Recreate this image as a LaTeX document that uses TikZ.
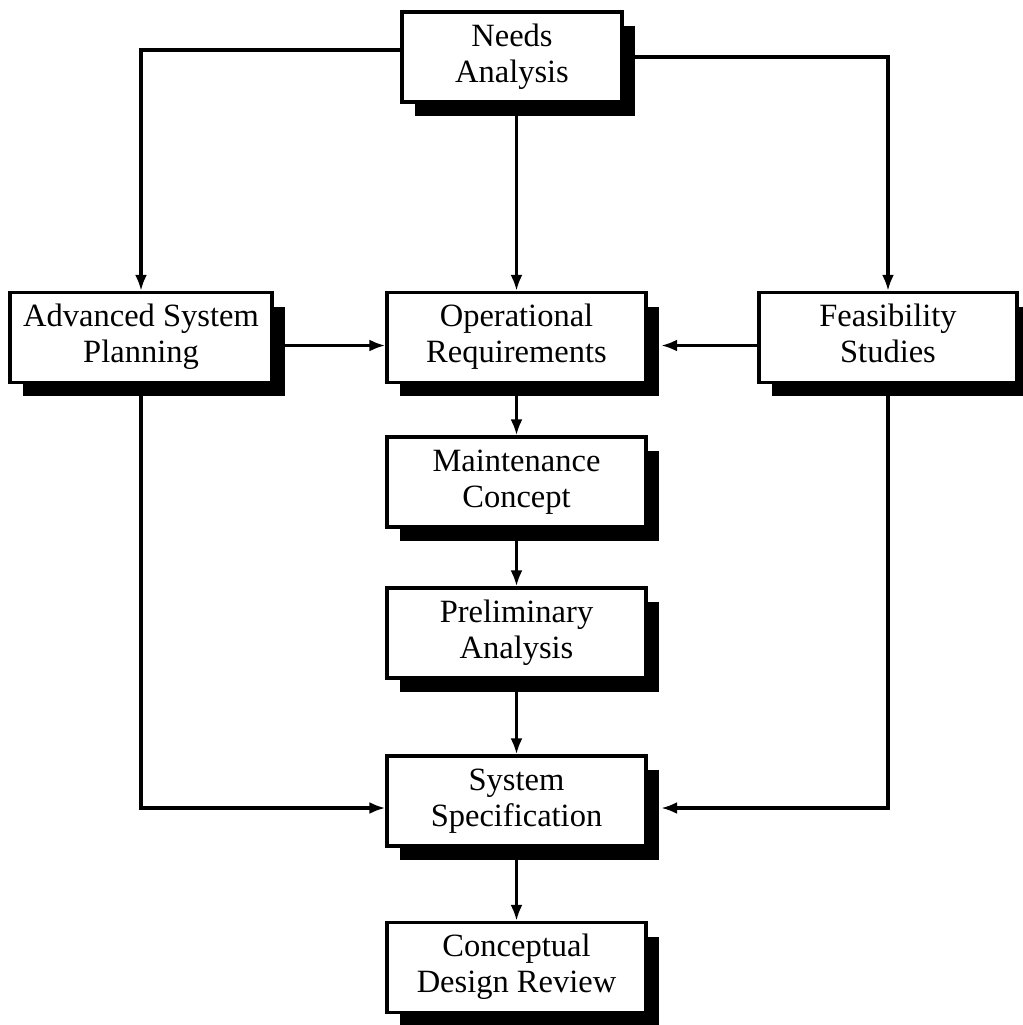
\documentclass[tikz,border=0pt]{standalone}
\usepackage{fontspec}
\setmainfont{Liberation Serif}
\usetikzlibrary{shadows,arrows.meta}

\newcommand{\twolines}[2]{\strut #1\\\strut #2}

\tikzset{
  stepbox/.style={draw, line width=1.9pt, fill=white, align=center,
    inner sep=0pt, minimum height=1.8cm, minimum width=5.18cm,
    font=\fontsize{18.5}{20.5}\selectfont,
    drop shadow={shadow xshift=0.26cm, shadow yshift=-0.28cm,
      fill=black, opacity=1}},
  flow/.style={line width=1.8pt, -{Latex[length=0.32cm,width=0.24cm]}}
}

\begin{document}
\begin{tikzpicture}
        [x=0.02cm, y=-0.02cm]
        \useasboundingbox (0,0) rectangle (1023,1025);
        % top row
        \node[stepbox, minimum width=4.4cm] (needs) at (512,57) {\twolines{Needs}{Analysis}};
        % middle row
        \node[stepbox, minimum width=5.24cm] (adv) at (141,337.5) {\twolines{Advanced System}{Planning}};
        \node[stepbox] (oper) at (516.5,337.5) {\twolines{Operational}{Requirements}};
        \node[stepbox, minimum width=5.16cm] (feas) at (888,337.5) {\twolines{Feasibility}{Studies}};
        % centre column
        \node[stepbox] (maint) at (516.5,482) {\twolines{Maintenance}{Concept}};
        \node[stepbox] (prelim) at (516.5,633) {\twolines{Preliminary}{Analysis}};
        \node[stepbox] (spec) at (516.5,801) {\twolines{System}{Specification}};
        \node[stepbox] (concept) at (516.5,967.5) {\twolines{Conceptual}{Design Review}};

        % connectors
        \draw[flow] ([yshift=0.14cm]needs.west) -| (adv.north);
        \draw[flow] (needs.east) -| (feas.north);
        \draw[flow] (needs.south -| oper.north) -- (oper.north);
        \draw[flow] ([yshift=-0.16cm]adv.east) -- ([yshift=-0.16cm]oper.west);
        \draw[flow] ([yshift=-0.16cm]feas.west) -- ([xshift=0.27cm,yshift=-0.16cm]oper.east);
        \draw[flow] (oper.south) -- (maint.north);
        \draw[flow] (maint.south) -- (prelim.north);
        \draw[flow] (prelim.south) -- (spec.north);
        \draw[flow] (spec.south) -- (concept.north);
        \draw[flow] (adv.south) |- ([yshift=-0.14cm]spec.west);
        \draw[flow] (feas.south) |- ([xshift=0.27cm,yshift=-0.14cm]spec.east);
    \end{tikzpicture}
\end{document}
